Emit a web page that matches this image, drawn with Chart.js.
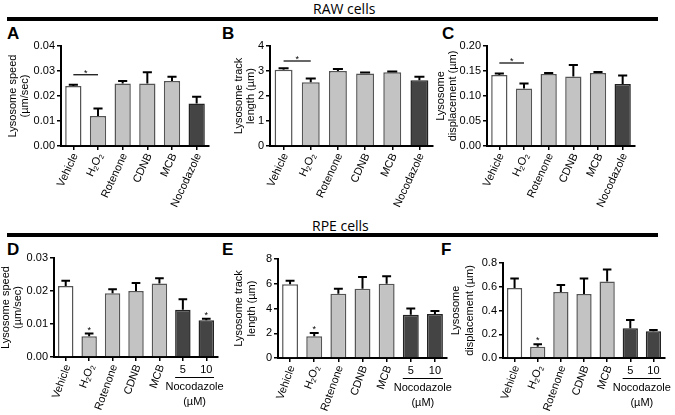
<!DOCTYPE html>
<html>
<head>
<meta charset="utf-8">
<script src="https://cdn.jsdelivr.net/npm/chart.js@4.4.0/dist/chart.umd.min.js"></script>
<style>
  body { margin: 0; background: #fff; }
  #page { position: relative; width: 675px; height: 415px; overflow: hidden; font-family: 'Liberation Sans', Arial, sans-serif; }
  #page canvas { position: absolute; left: 0; top: 0; }
  .sec { position: absolute; font-family: 'Open Sans', sans-serif; font-size: 14px; line-height: 1; color: #000; }
  .rule { position: absolute; left: 7px; width: 651px; height: 4px; background: #000; }
  .letter { position: absolute; font-weight: bold; font-size: 17px; line-height: 1; color: #000; }
</style>
</head>
<body>
<div id="page">
  <div class="sec" style="left:313px; top:2px;">RAW cells</div>
  <div class="rule" style="top:17px;"></div>
  <div class="sec" style="left:312px; top:219px;">RPE cells</div>
  <div class="rule" style="top:233px;"></div>
  <div class="letter" style="left:7px; top:25px;">A</div>
  <div class="letter" style="left:222px; top:25px;">B</div>
  <div class="letter" style="left:442px; top:25px;">C</div>
  <div class="letter" style="left:7px; top:241px;">D</div>
  <div class="letter" style="left:222px; top:241px;">E</div>
  <div class="letter" style="left:441px; top:241px;">F</div>
  <canvas id="cA" width="675" height="415"></canvas>
  <canvas id="cB" width="675" height="415"></canvas>
  <canvas id="cC" width="675" height="415"></canvas>
  <canvas id="cD" width="675" height="415"></canvas>
  <canvas id="cE" width="675" height="415"></canvas>
  <canvas id="cF" width="675" height="415"></canvas>
</div>
<script>
// categories
const rawLabels = ["Vehicle", "H2O2", "Rotenone", "CDNB", "MCB", "Nocodazole"];
const rpeLabels = ["Vehicle", "H2O2", "Rotenone", "CDNB", "MCB", "5", "10"];

// RAW cells (mean, SEM)
const rawSpeed = [0.024, 0.012, 0.025, 0.025, 0.026, 0.017];
const rawSpeedErr = [0.0005, 0.003, 0.001, 0.0045, 0.0017, 0.0027];
const rawTrack = [3.05, 2.55, 3.0, 2.9, 2.95, 2.63];
const rawTrackErr = [0.06, 0.15, 0.08, 0.04, 0.03, 0.14];
const rawDisp = [0.142, 0.115, 0.144, 0.139, 0.146, 0.124];
const rawDispErr = [0.003, 0.01, 0.002, 0.023, 0.002, 0.017];

// RPE cells (mean, SEM)
const rpeSpeed = [0.0215, 0.0063, 0.0193, 0.0200, 0.0223, 0.0143, 0.0111];
const rpeSpeedErr = [0.0016, 0.0008, 0.0012, 0.0024, 0.0016, 0.0032, 0.0005];
const rpeTrack = [5.95, 1.75, 5.2, 5.6, 6.0, 3.5, 3.55];
const rpeTrackErr = [0.3, 0.27, 0.4, 0.95, 0.6, 0.5, 0.25];
const rpeDisp = [0.59, 0.095, 0.555, 0.54, 0.645, 0.25, 0.225];
const rpeDispErr = [0.08, 0.02, 0.06, 0.13, 0.1, 0.07, 0.01];

// y ticks
const speedRawTicks = [0, 0.01, 0.02, 0.03, 0.04];
const trackRawTicks = [0, 1, 2, 3, 4];
const dispRawTicks = [0, 0.05, 0.10, 0.15, 0.20];
const speedRpeTicks = [0, 0.01, 0.02, 0.03];
const trackRpeTicks = [0, 2, 4, 6, 8];
const dispRpeTicks = [0, 0.2, 0.4, 0.6, 0.8];

// significance: bar between Vehicle and H2O2 (RAW), stars on bars (RPE)
const rawSigLevel = [0.0285, 3.4, 0.166];
const rpeStarBars = [[1, 6], [1], [1]];

const WHITE = "#ffffff", GREY = "#c3c3c3", DARK = "#444444";
const rawFill = [WHITE, GREY, GREY, GREY, GREY, DARK];
const rpeFill = [WHITE, GREY, GREY, GREY, GREY, DARK, DARK];

Chart.defaults.font.family = "'Liberation Sans', Arial, sans-serif";
Chart.defaults.font.size = 11;
Chart.defaults.color = "#000";

const FONT = "'Liberation Sans', Arial, sans-serif";

const panels = [
  { id: "cA", labels: rawLabels, data: rawSpeed, err: rawSpeedErr, ticks: speedRawTicks, dec: 2,
    box: [61, 46, 209, 146], title: ["Lysosome speed", "(\u00b5m/sec)"], titleX: [13, 25], angle: 65, sig: rawSigLevel[0] },
  { id: "cB", labels: rawLabels, data: rawTrack, err: rawTrackErr, ticks: trackRawTicks, dec: 0,
    box: [270, 46, 433, 146], title: ["Lysosome track", "length (\u00b5m)"], titleX: [239, 251], angle: 65, sig: rawSigLevel[1] },
  { id: "cC", labels: rawLabels, data: rawDisp, err: rawDispErr, ticks: dispRawTicks, dec: 2,
    box: [487, 46, 635, 146], title: ["Lysosome", "displacement (\u00b5m)"], titleX: [441, 453], angle: 65, sig: rawSigLevel[2] },
  { id: "cD", labels: rpeLabels, data: rpeSpeed, err: rpeSpeedErr, ticks: speedRpeTicks, dec: 2,
    box: [54, 258, 218, 357], title: ["Lysosome speed", "(\u00b5m/sec)"], titleX: [6, 18], angle: 70, stars: rpeStarBars[0] },
  { id: "cE", labels: rpeLabels, data: rpeTrack, err: rpeTrackErr, ticks: trackRpeTicks, dec: 0,
    box: [278, 259, 447, 358], title: ["Lysosome track", "length (\u00b5m)"], titleX: [239, 252], angle: 70, stars: rpeStarBars[1] },
  { id: "cF", labels: rpeLabels, data: rpeDisp, err: rpeDispErr, ticks: dispRpeTicks, dec: 1,
    box: [503, 263, 665, 358], title: ["Lysosome", "displacement (\u00b5m)"], titleX: [456, 470], angle: 70, stars: rpeStarBars[2] }
];

function drawH2O2(ctx) {
  const parts = [["H", 11, 0], ["2", 7, 3], ["O", 11, 0], ["2", 7, 3]];
  let total = 0;
  parts.forEach(p => { ctx.font = p[1] + "px " + FONT; total += ctx.measureText(p[0]).width; });
  let x = -total;
  ctx.textAlign = "left";
  parts.forEach(p => {
    ctx.font = p[1] + "px " + FONT;
    ctx.fillText(p[0], x, p[2]);
    x += ctx.measureText(p[0]).width;
  });
}

function panelPlugin(p) {
  return {
    id: "panelExtras",
    afterDatasetsDraw(chart) {
      // error bars (upper only)
      const ctx = chart.ctx, ys = chart.scales.y;
      const meta = chart.getDatasetMeta(0);
      ctx.save();
      ctx.strokeStyle = "#000";
      ctx.lineWidth = 2;
      p.data.forEach((v, i) => {
        const bar = meta.data[i];
        const y0 = ys.getPixelForValue(v);
        const y1 = ys.getPixelForValue(v + p.err[i]);
        const cap = bar.width * 0.28;
        ctx.beginPath();
        ctx.moveTo(bar.x, y0);
        ctx.lineTo(bar.x, y1);
        ctx.moveTo(bar.x - cap, y1);
        ctx.lineTo(bar.x + cap, y1);
        ctx.stroke();
      });
      ctx.restore();
    },
    afterDraw(chart) {
      const ctx = chart.ctx, xs = chart.scales.x, ys = chart.scales.y, area = chart.chartArea;
      ctx.save();
      ctx.fillStyle = "#000";
      ctx.strokeStyle = "#000";

      // x labels
      p.labels.forEach((lab, i) => {
        const x = xs.getPixelForValue(i);
        if (lab === "5" || lab === "10") {
          ctx.font = "11px " + FONT;
          ctx.textAlign = "center";
          ctx.textBaseline = "middle";
          ctx.fillText(lab, x, area.bottom + 13);
          return;
        }
        ctx.save();
        ctx.translate(x + 2, area.bottom + 8);
        ctx.rotate(-p.angle * Math.PI / 180);
        ctx.textBaseline = "middle";
        if (lab === "H2O2") {
          drawH2O2(ctx);
        } else {
          ctx.font = "11px " + FONT;
          ctx.textAlign = "right";
          ctx.fillText(lab, 0, 0);
        }
        ctx.restore();
      });

      // Nocodazole group label
      if (p.labels.length === 7) {
        const x5 = xs.getPixelForValue(5), x10 = xs.getPixelForValue(6);
        const half = chart.getDatasetMeta(0).data[5].width / 2;
        ctx.lineWidth = 1;
        ctx.beginPath();
        ctx.moveTo(x5 - half, area.bottom + 20.5);
        ctx.lineTo(x10 + half, area.bottom + 20.5);
        ctx.stroke();
        ctx.font = "11px " + FONT;
        ctx.textAlign = "center";
        ctx.textBaseline = "middle";
        ctx.fillText("Nocodazole", (x5 + x10) / 2, area.bottom + 30);
        ctx.fillText("(\u00b5M)", (x5 + x10) / 2, area.bottom + 45);
      }

      // y axis title, two lines
      const yc = (area.top + area.bottom) / 2;
      p.title.forEach((t, k) => {
        ctx.save();
        ctx.translate(p.titleX[k], yc);
        ctx.rotate(-Math.PI / 2);
        ctx.font = "11px " + FONT;
        ctx.textAlign = "center";
        ctx.textBaseline = "middle";
        ctx.fillText(t, 0, 0);
        ctx.restore();
      });

      // significance
      ctx.font = "9px " + FONT;
      ctx.textAlign = "center";
      ctx.textBaseline = "alphabetic";
      if (p.sig !== undefined) {
        const y = ys.getPixelForValue(p.sig);
        const xa = xs.getPixelForValue(0), xb = xs.getPixelForValue(1);
        ctx.lineWidth = 1.2;
        ctx.beginPath();
        ctx.moveTo(xa, y);
        ctx.lineTo(xb, y);
        ctx.stroke();
        ctx.fillText("*", (xa + xb) / 2, y + 1);
      }
      if (p.stars) {
        p.stars.forEach(i => {
          const y = ys.getPixelForValue(p.data[i] + p.err[i]);
          ctx.fillText("*", xs.getPixelForValue(i), y - 1);
        });
      }
      ctx.restore();
    }
  };
}

panels.forEach(p => {
  const YW = 34, XH = 5;
  const top = p.ticks[p.ticks.length - 1];
  const fill = p.labels.length === 7 ? rpeFill : rawFill;
  new Chart(document.getElementById(p.id), {
    type: "bar",
    data: {
      labels: p.labels,
      datasets: [{
        data: p.data,
        backgroundColor: fill,
        borderColor: fill.map(c => c === DARK ? "#222" : "#555"),
        borderWidth: 1.5,
        borderSkipped: "bottom",
        categoryPercentage: 1,
        barPercentage: 0.66
      }]
    },
    options: {
      responsive: false,
      animation: false,
      devicePixelRatio: 1,
      layout: {
        padding: { left: p.box[0] - YW, top: p.box[1], right: 675 - p.box[2], bottom: 415 - p.box[3] - XH }
      },
      plugins: { legend: { display: false }, tooltip: { enabled: false } },
      scales: {
        x: {
          grid: { offset: false, drawOnChartArea: false, color: "#000", lineWidth: 1.5, tickLength: 4 },
          border: { color: "#000", width: 2 },
          ticks: { display: false },
          afterFit: s => { s.height = XH; }
        },
        y: {
          min: 0, max: top,
          afterBuildTicks: s => { s.ticks = p.ticks.map(v => ({ value: v })); },
          grid: { drawOnChartArea: false, color: "#000", lineWidth: 1.5, tickLength: 4 },
          border: { color: "#000", width: 2 },
          ticks: { padding: 2, font: { size: 11 }, color: "#000", callback: v => Number(v).toFixed(p.dec) },
          afterFit: s => { s.width = YW; }
        }
      }
    },
    plugins: [panelPlugin(p)]
  });
});
</script>
</body>
</html>
